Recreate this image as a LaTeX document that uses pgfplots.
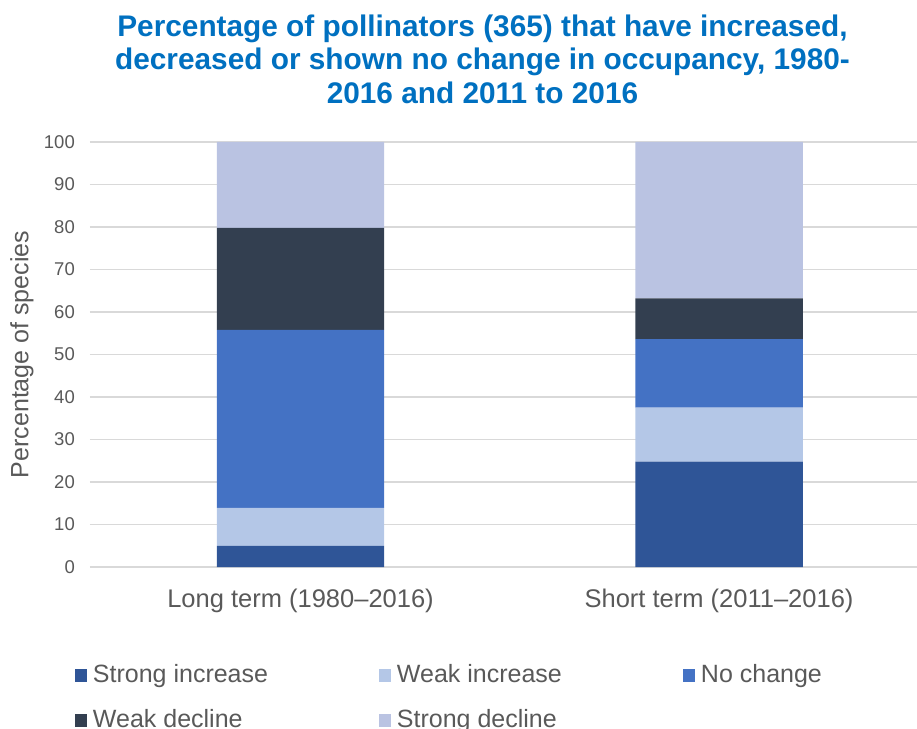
\documentclass[border=0pt]{standalone}
\usepackage{fontspec}
\setmainfont{Liberation Sans}
\usepackage{pgfplots}
\pgfplotsset{compat=1.18}
\definecolor{sinc}{HTML}{2F5597}
\definecolor{winc}{HTML}{B4C7E7}
\definecolor{noch}{HTML}{4472C4}
\definecolor{wdec}{HTML}{333F50}
\definecolor{sdec}{HTML}{BAC3E2}
\definecolor{txt}{HTML}{595959}
\definecolor{ttl}{HTML}{0070C0}
\definecolor{grd}{HTML}{D9D9D9}
\begin{document}
\begin{tikzpicture}[x=1pt,y=1pt]
\begin{axis}[
  at={(0,0)}, anchor=south west,
  scale only axis, width=827pt, height=425pt,
  ybar stacked, bar width=0.4,
  xmin=-0.503, xmax=1.473,
  ymin=0, ymax=100,
  ytick={0,10,...,100},
  xtick={0,1},
  xticklabels={Long term (1980--2016), Short term (2011--2016)},
  major tick length=0pt,
  axis line style={draw=none},
  ymajorgrids, grid style={grd, line width=1.2pt},
  /pgf/number format/assume math mode=true,
  yticklabel style={font=\fontsize{18.5}{20}\selectfont, text=txt, anchor=east, inner sep=0pt, xshift=-15pt},
  xticklabel style={font=\fontsize{25.5}{28}\selectfont, text=txt, anchor=base, inner sep=0pt, yshift=-40pt},
  ylabel={Percentage of species},
  ylabel style={font=\fontsize{25}{28}\selectfont, text=txt, at={(axis description cs:-0.0822,0.5)}, anchor=center},
  legend columns=3,
  area legend,
  legend image code/.code={\fill[#1] (0pt,0pt) rectangle (12pt,13pt);},
  legend style={draw=none, fill=none, inner sep=0pt, outer sep=0pt,
    at={(rel axis cs:-0.01814,-0.2306)}, anchor=north west,
    font=\fontsize{25}{28}\selectfont, text=txt,
    cells={anchor=base west},
    nodes={inner sep=0pt, outer sep=0pt, text height=17pt, text depth=6pt},
    /tikz/every odd column/.append style={column sep=6pt},
    /tikz/every even column/.append style={column sep=0pt},
    row sep=22pt},
]
\addplot[fill=sinc, draw=none] coordinates {(0,5.0) (1,24.8)};
\addlegendentry{\makebox[286pt][l]{Strong increase}}
\addplot[fill=winc, draw=none] coordinates {(0,8.9) (1,12.7)};
\addlegendentry{\makebox[286pt][l]{Weak increase}}
\addplot[fill=noch, draw=none] coordinates {(0,41.9) (1,16.1)};
\addlegendentry{\makebox[286pt][l]{No change}}
\addplot[fill=wdec, draw=none] coordinates {(0,24.0) (1,9.6)};
\addlegendentry{\makebox[286pt][l]{Weak decline}}
\addplot[fill=sdec, draw=none] coordinates {(0,20.2) (1,36.8)};
\addlegendentry{\makebox[286pt][l]{Strong decline}}
\end{axis}
\begin{scope}[every node/.style={font=\fontsize{29.8}{34}\selectfont\bfseries, text=ttl, anchor=base, inner sep=0pt}]
\node at (392.5,530) {Percentage of pollinators (365) that have increased,};
\node at (392.5,497) {decreased or shown no change in occupancy, 1980-};
\node at (392.5,463) {2016 and 2011 to 2016};
\end{scope}
\pgfresetboundingbox
\path (-90,-161) rectangle (827,567);
\end{tikzpicture}
\end{document}
